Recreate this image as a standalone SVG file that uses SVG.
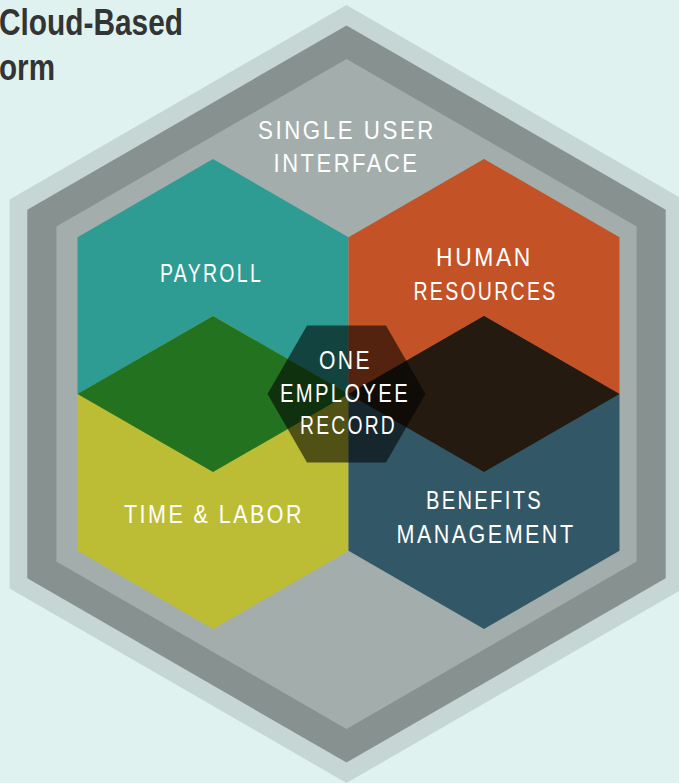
<svg xmlns="http://www.w3.org/2000/svg" width="679" height="783" viewBox="0 0 679 783">
<style>
.lbl{font-family:"Liberation Sans",Arial,sans-serif;font-size:26px;fill:#ffffff;text-anchor:middle;letter-spacing:3px}
.title{font-family:"Liberation Sans",Arial,sans-serif;font-size:37px;font-weight:bold;fill:#333535}
</style>
<rect x="0" y="0" width="679" height="783" fill="#e0f2f0"/>
<g id="title">
<text class="title" x="-1" y="35" textLength="184" lengthAdjust="spacingAndGlyphs">Cloud-Based</text>
<text class="title" x="-1" y="80" textLength="56" lengthAdjust="spacingAndGlyphs">orm</text>
</g>
<g id="platform">
<polygon points="346.5,5 683.4,199.5 683.4,588.5 346.5,783 9.6,588.5 9.6,199.5" fill="#c5d6d4"/>
<polygon points="346.5,25.4 665.7,209.7 665.7,578.3 346.5,762.6 27.3,578.3 27.3,209.7" fill="#879190"/>
<polygon points="346.5,59 636.6,226.5 636.6,561.5 346.5,729 56.4,561.5 56.4,226.5" fill="#a3aeac"/>
</g>
<g id="single-user-interface">
<text class="lbl" x="347" y="139.3" textLength="178" lengthAdjust="spacingAndGlyphs">SINGLE USER</text>
<text class="lbl" x="346.5" y="172.3" textLength="146" lengthAdjust="spacingAndGlyphs">INTERFACE</text>
</g>
<g id="payroll">
<polygon points="213,159 348.5,237.25 348.5,393.75 213,472 77.5,393.75 77.5,237.25" fill="#2e9c93"/>
</g>
<g id="time-labor">
<polygon points="213,316 348.5,394.25 348.5,550.75 213,629 77.5,550.75 77.5,394.25" fill="#bdbd35"/>
</g>
<g id="human-resources">
<polygon points="484,159 619.5,237.25 619.5,393.75 484,472 348.5,393.75 348.5,237.25" fill="#c35227"/>
</g>
<g id="benefits-management">
<polygon points="484,316 619.5,394.25 619.5,550.75 484,629 348.5,550.75 348.5,394.25" fill="#325868"/>
</g>
<g id="overlaps">
<polygon points="77.5,394 213,316 348.5,394 213,472" fill="#23721f"/>
<polygon points="348.5,394 484,316 619.5,394 484,472" fill="#241a10"/>
</g>
<g id="labels">
<text class="lbl" x="211.5" y="281.7" textLength="103" lengthAdjust="spacingAndGlyphs">PAYROLL</text>
<text class="lbl" x="484.5" y="265.7" textLength="97" lengthAdjust="spacingAndGlyphs">HUMAN</text>
<text class="lbl" x="485.5" y="300" textLength="144" lengthAdjust="spacingAndGlyphs">RESOURCES</text>
<text class="lbl" x="214" y="523.3" textLength="180" lengthAdjust="spacingAndGlyphs">TIME &amp; LABOR</text>
<text class="lbl" x="484.5" y="509.3" textLength="117" lengthAdjust="spacingAndGlyphs">BENEFITS</text>
<text class="lbl" x="486" y="542.7" textLength="179" lengthAdjust="spacingAndGlyphs">MANAGEMENT</text>
</g>
<g id="one-employee-record">
<polygon points="425.5,394 386,325.6 307,325.6 267.5,394 307,462.4 386,462.4" fill="#000000" fill-opacity="0.57"/>
<text class="lbl" x="345.5" y="369.3" textLength="53" lengthAdjust="spacingAndGlyphs">ONE</text>
<text class="lbl" x="345" y="401.7" textLength="130" lengthAdjust="spacingAndGlyphs">EMPLOYEE</text>
<text class="lbl" x="348.5" y="434" textLength="97" lengthAdjust="spacingAndGlyphs">RECORD</text>
</g>
<g id="connectors"/>
</svg>
